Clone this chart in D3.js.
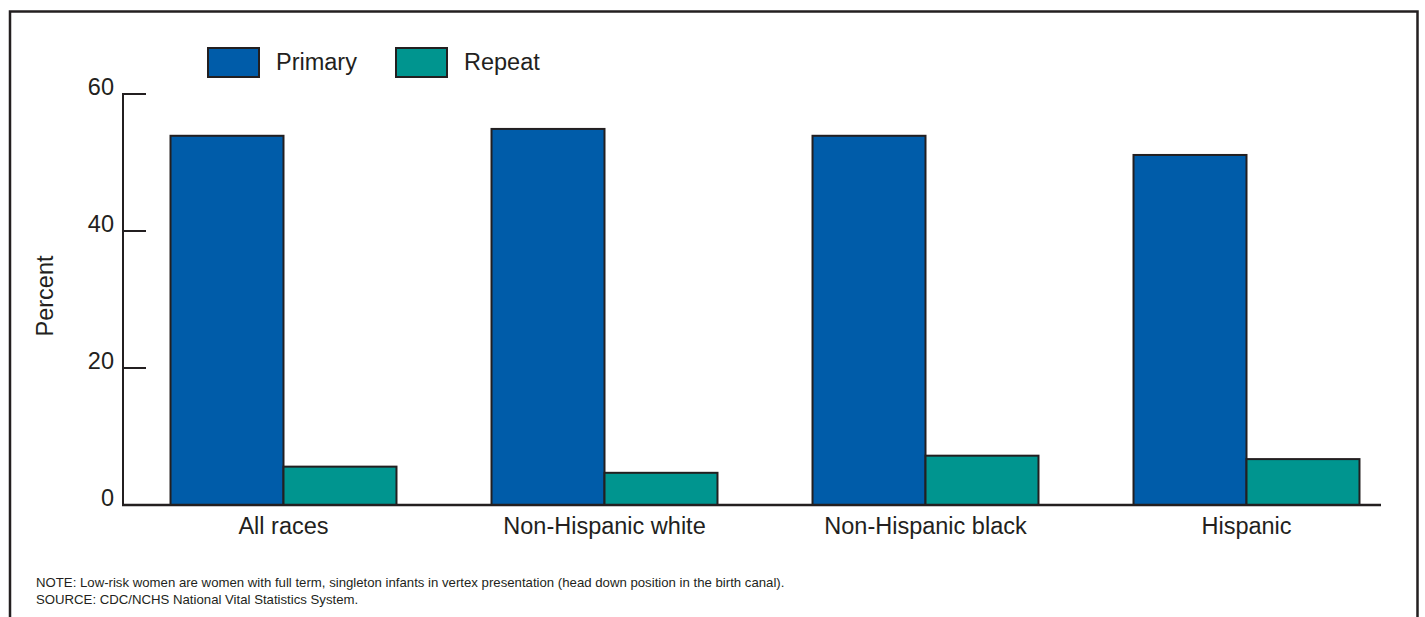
<!DOCTYPE html>
<html>
<head>
<meta charset="utf-8">
<script src="https://cdn.jsdelivr.net/npm/d3@7"></script>
<style>
  html, body { margin: 0; padding: 0; background: #fff; }
  svg { display: block; font-family: Arial, "Liberation Sans", Helvetica, sans-serif; }
</style>
</head>
<body>
<svg id="chart" width="1425" height="617"></svg>
<script>
const categories = ["All races", "Non-Hispanic white", "Non-Hispanic black", "Hispanic"];
const seriesNames = ["Primary", "Repeat"];
const primaryValues = [53.9, 54.9, 53.9, 51.1];
const repeatValues = [5.6, 4.7, 7.2, 6.7];
const yTicks = [0, 20, 40, 60];
const noteLines = [
  "NOTE: Low-risk women are women with full term, singleton infants in vertex presentation (head down position in the birth canal).",
  "SOURCE: CDC/NCHS National Vital Statistics System."
];

const colors = { "Primary": "#005CA9", "Repeat": "#00958F" };
const ink = "#231f20";

const svg = d3.select("#chart");

// Outer frame (bottom edge runs off the picture)
svg.append("path")
  .attr("d", "M10,640 V11.5 H1417.5 V640")
  .attr("fill", "none").attr("stroke", ink).attr("stroke-width", 2.5);

const y = d3.scaleLinear().domain([0, 60]).range([505, 94]);
const x0 = d3.scaleBand().domain(categories).range([123, 1407]).paddingInner(0.296).paddingOuter(0.148);
const x1 = d3.scaleBand().domain(seriesNames).range([0, x0.bandwidth()]);

const data = categories.map((c, i) => ({ cat: c, vals: [
  { s: "Primary", v: primaryValues[i] },
  { s: "Repeat", v: repeatValues[i] }
]}));

// Bars
const g = svg.append("g");
g.selectAll("g.grp").data(data).join("g").attr("class", "grp")
  .attr("transform", d => `translate(${x0(d.cat)},0)`)
  .selectAll("rect").data(d => d.vals).join("rect")
  .attr("x", d => x1(d.s))
  .attr("y", d => y(d.v))
  .attr("width", x1.bandwidth())
  .attr("height", d => y(0) - y(d.v))
  .attr("fill", d => colors[d.s])
  .attr("stroke", ink).attr("stroke-width", 2);

// Y axis
const yAxis = svg.append("g");
yAxis.append("line").attr("x1", 123).attr("x2", 123).attr("y1", y(60) - 1).attr("y2", y(0))
  .attr("stroke", ink).attr("stroke-width", 2);
yAxis.selectAll("line.tick").data(yTicks).join("line").attr("class", "tick")
  .attr("x1", 123).attr("x2", 146).attr("y1", d => y(d)).attr("y2", d => y(d))
  .attr("stroke", ink).attr("stroke-width", 2);
yAxis.selectAll("text").data(yTicks).join("text")
  .attr("x", 114).attr("y", d => y(d) + 1)
  .attr("text-anchor", "end").attr("font-size", 23.5).attr("fill", ink)
  .text(d => d);

// X axis baseline
svg.append("line").attr("x1", 122).attr("x2", 1381).attr("y1", y(0)).attr("y2", y(0))
  .attr("stroke", ink).attr("stroke-width", 2.5);

// Category labels
svg.selectAll("text.cat").data(categories).join("text").attr("class", "cat")
  .attr("x", d => x0(d) + x0.bandwidth() / 2).attr("y", 534)
  .attr("text-anchor", "middle").attr("font-size", 23.5).attr("fill", ink)
  .text(d => d);

// Y label
svg.append("text")
  .attr("transform", "translate(53,296) rotate(-90)")
  .attr("text-anchor", "middle").attr("font-size", 23.5).attr("fill", ink)
  .text("Percent");

// Legend
const legendX = [208, 396];
const leg = svg.selectAll("g.leg").data(seriesNames).join("g").attr("class", "leg")
  .attr("transform", (d, i) => `translate(${legendX[i]},48)`);
leg.append("rect").attr("width", 51).attr("height", 29)
  .attr("fill", d => colors[d]).attr("stroke", ink).attr("stroke-width", 2);
leg.append("text").attr("x", 68).attr("y", 22)
  .attr("font-size", 23.5).attr("fill", ink).text(d => d);

// Notes
svg.selectAll("text.note").data(noteLines).join("text").attr("class", "note")
  .attr("x", 36).attr("y", (d, i) => 587 + i * 17)
  .attr("font-size", 13.2).attr("fill", ink)
  .text(d => d);
</script>
</body>
</html>
